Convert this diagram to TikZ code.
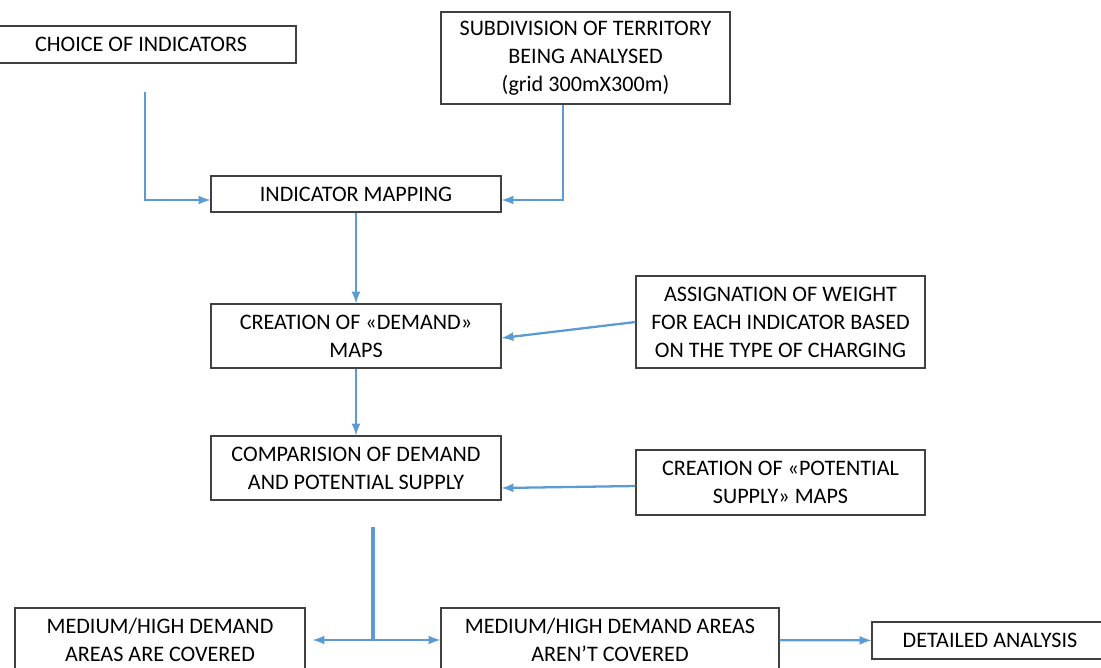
\documentclass[tikz,border=0pt]{standalone}
\usepackage{fontspec}
\setmainfont{Carlito}
\usetikzlibrary{calc}

\definecolor{flowblue}{HTML}{5B9BD5}
\definecolor{boxgray}{HTML}{404040}

\tikzset{
  block/.style={draw=boxgray,line width=0.7pt,align=center,inner sep=0pt,
    font=\fontsize{12.6}{15.9}\selectfont},
  flow/.style={flowblue,line width=1.3pt,-latex},
}

\begin{document}
\begin{tikzpicture}[x=0.02cm,y=-0.02cm]
  \useasboundingbox (0,0) rectangle (1101,667);

  \node[block,minimum width=310*0.02cm,minimum height=37*0.02cm] (choice) at (141,44.5) {CHOICE OF INDICATORS};
  \node[block,minimum width=289*0.02cm,minimum height=92*0.02cm] (subdiv) at (585.5,58) {SUBDIVISION OF TERRITORY\\BEING ANALYSED\\(grid 300mX300m)};
  \node[block,minimum width=290*0.02cm,minimum height=36*0.02cm] (mapping) at (356,194) {INDICATOR MAPPING};
  \node[block,minimum width=290*0.02cm,minimum height=64*0.02cm] (demand) at (356,336) {CREATION OF «DEMAND»\\MAPS};
  \node[block,minimum width=289*0.02cm,minimum height=92*0.02cm] (weight) at (780.5,322) {ASSIGNATION OF WEIGHT\\FOR EACH INDICATOR BASED\\ON THE TYPE OF CHARGING};
  \node[block,minimum width=290*0.02cm,minimum height=64*0.02cm] (compare) at (356,468) {COMPARISION OF DEMAND\\AND POTENTIAL SUPPLY};
  \node[block,minimum width=289*0.02cm,minimum height=65*0.02cm] (supply) at (780.5,482.5) {CREATION OF «POTENTIAL\\SUPPLY» MAPS};
  \node[block,minimum width=290*0.02cm,minimum height=64*0.02cm] (covered) at (160,640) {MEDIUM/HIGH DEMAND\\AREAS ARE COVERED};
  \node[block,minimum width=338*0.02cm,minimum height=64*0.02cm] (uncovered) at (610,640) {MEDIUM/HIGH DEMAND AREAS\\AREN’T COVERED};
  \node[block,minimum width=236*0.02cm,minimum height=37*0.02cm] (detail) at (990,640.5) {DETAILED ANALYSIS};

  \coordinate (choiceout) at (145,92);
  \coordinate (split) at (373,527);
  \coordinate (fork) at (373,640);

  \draw[flow] (choiceout) |- ([yshift=-0.12cm]mapping.west);
  \draw[flow] ([xshift=-0.45cm]subdiv.south) |- ([yshift=-0.12cm]mapping.east);
  \draw[flow] (mapping) -- (demand);
  \draw[flow] (weight.west) -- ([yshift=-0.04cm]demand.east);
  \draw[flow] (demand) -- (compare);
  \draw[flow] ([yshift=-0.07cm]supply.west) -- ([yshift=-0.4cm]compare.east);

  \draw[flowblue,line width=2pt] (split) -- (fork);
  \draw[flow,latex-latex] ([xshift=0.14cm]covered.east) -- (uncovered.west);
  \draw[flow] (uncovered) -- (detail);
\end{tikzpicture}
\end{document}
